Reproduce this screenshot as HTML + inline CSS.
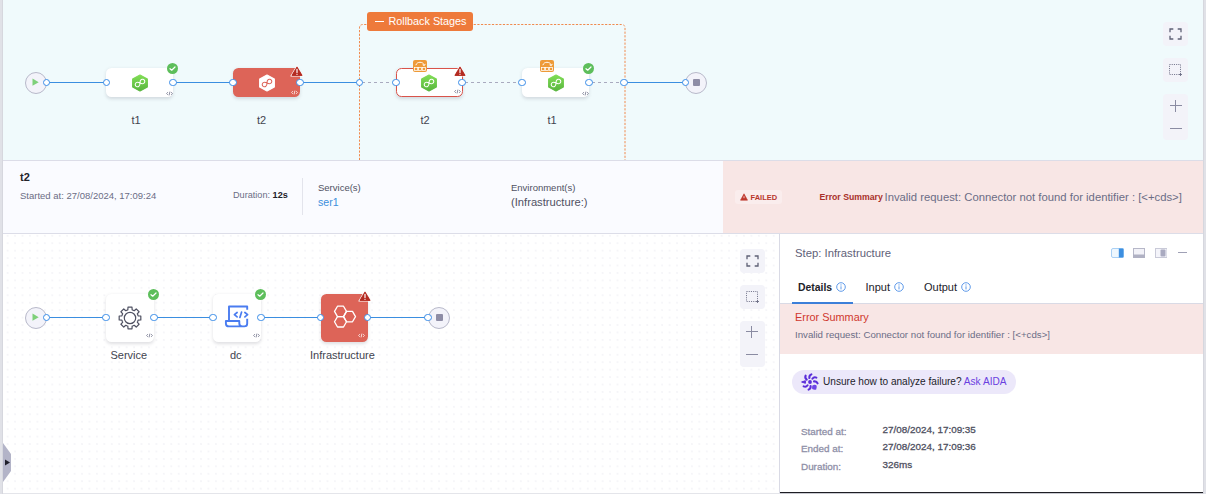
<!DOCTYPE html>
<html><head><meta charset="utf-8">
<style>
*{box-sizing:border-box;margin:0;padding:0}
html,body{width:1206px;height:494px;overflow:hidden;background:#fff;font-family:"Liberation Sans",sans-serif}
.a{position:absolute}
.t{position:absolute;white-space:pre;line-height:1}
#top{left:3px;top:0;width:1200px;height:161px;background:#F0FAFC;border-bottom:1px solid #DCDDE8}
#info{left:3px;top:161px;width:1200px;height:73px;background:#FAFBFF;border-bottom:1px solid #DCDDE8}
#pink{left:723px;top:161px;width:480px;height:72px;background:#F8E6E5}
#bot{left:3px;top:234px;width:776px;height:260px;background-color:#fff;
 background-image:radial-gradient(circle,#F0F0F5 0.5px,transparent 0.9px);background-size:7.4375px 7.4375px;background-position:0.935px 5.485px}
#panel{left:779px;top:234px;width:424px;height:260px;background:#fff;border-left:1px solid #D9DAE5}
#lbar{left:0;top:0;width:3px;height:494px;background:linear-gradient(90deg,#E0E1E7 0,#E0E1E7 2px,#D6D7DE 2px)}
#rbar{left:1203px;top:0;width:3px;height:494px;background:linear-gradient(90deg,#D6D7DE 0,#D6D7DE 1px,#E0E1E7 1px)}
.circ{position:absolute;width:22px;height:22px;border-radius:50%;background:#F3F3FA;border:1px solid #B8B9CA}
.port{position:absolute;width:7.6px;height:7.6px;border-radius:50%;background:#fff;border:1.85px solid #3A8DE8}
.ln{position:absolute;height:1.5px;background:#3B8EE0}
.dl{position:absolute;height:1.5px;background-image:linear-gradient(90deg,#A9AABF 0,#A9AABF 3px,transparent 3px);background-size:6px 1.5px}
.node{position:absolute;width:67px;height:29px;border-radius:5.5px;background:#fff;box-shadow:0 1.5px 3.5px rgba(96,97,112,0.2)}
.sq{position:absolute;width:48px;height:48px;border-radius:5.5px;background:#fff;box-shadow:0 1.5px 3.5px rgba(96,97,112,0.2)}
.red{background:#DD6458}
.lbl{position:absolute;white-space:pre;line-height:1;font-size:11px;color:#43444F}
.zb{position:absolute;width:25px;border-radius:4px;background:#F3F3F9}
</style></head><body>
<svg width="0" height="0" style="position:absolute">
<defs>
<linearGradient id="gg" x1="0" y1="0" x2="0" y2="1"><stop offset="0" stop-color="#80DD55"/><stop offset="1" stop-color="#58B53E"/></linearGradient>
<symbol id="hexg" viewBox="-10 -10 20 20">
 <path d="M0 -8.9 L8.2 -4.5 L8.2 4.5 L0 8.9 L-8.2 4.5 L-8.2 -4.5Z" fill="url(#gg)" stroke="url(#gg)" stroke-width="1.2" stroke-linejoin="round"/>
 <path d="M0 0 C0.9 -1.5 1.9 -2.5 3.3 -2.5 A2.5 2.5 0 0 1 3.3 2.5 C1.9 2.5 0.9 1.5 0 0 C-0.9 -1.5 -1.9 -2.5 -3.3 -2.5 A2.5 2.5 0 0 0 -3.3 2.5 C-1.9 2.5 -0.9 1.5 0 0Z" transform="rotate(-32)" fill="none" stroke="#fff" stroke-width="1.2"/>
</symbol>
<symbol id="hexw" viewBox="-10 -10 20 20">
 <path d="M0 -8.9 L8.2 -4.5 L8.2 4.5 L0 8.9 L-8.2 4.5 L-8.2 -4.5Z" fill="#fff" stroke="#fff" stroke-width="1.2" stroke-linejoin="round"/>
 <path d="M0 0 C0.9 -1.5 1.9 -2.5 3.3 -2.5 A2.5 2.5 0 0 1 3.3 2.5 C1.9 2.5 0.9 1.5 0 0 C-0.9 -1.5 -1.9 -2.5 -3.3 -2.5 A2.5 2.5 0 0 0 -3.3 2.5 C-1.9 2.5 -0.9 1.5 0 0Z" transform="rotate(-32)" fill="none" stroke="#DD6458" stroke-width="1.2"/>
</symbol>
<symbol id="chk" viewBox="0 0 11 11">
 <circle cx="5.5" cy="5.5" r="5.5" fill="#5DBE5B"/>
 <path d="M3 5.7 L4.7 7.2 L8 4" fill="none" stroke="#fff" stroke-width="1.2" stroke-linecap="round" stroke-linejoin="round"/>
</symbol>
<symbol id="warn" viewBox="0 0 14 12">
 <path d="M7 1 L13 11 L1 11Z" fill="#B42B21" stroke="#fff" stroke-width="1.2" stroke-linejoin="round"/>
 <path d="M7 1.9 L12.1 10.4 L1.9 10.4Z" fill="#B42B21" stroke="#B42B21" stroke-width="0.9" stroke-linejoin="round"/>
 <path d="M7 4.4 V7.6" stroke="#fff" stroke-width="1.2" stroke-linecap="round"/>
 <circle cx="7" cy="9.3" r="0.65" fill="#fff"/>
</symbol>
<symbol id="code" viewBox="0 0 7 5">
 <path d="M1.9 1.1 L0.6 2.5 L1.9 3.9 M5.1 1.1 L6.4 2.5 L5.1 3.9 M3.9 0.6 L3.1 4.4" fill="none" stroke="currentColor" stroke-width="0.75"/>
</symbol>
<symbol id="rb" viewBox="0 0 14 12">
 <rect x="0" y="0" width="14" height="12" rx="2" fill="#EE9A38"/>
 <path d="M2.9 5.2 C3.6 1.4 10.2 1.3 11.2 5.1" fill="none" stroke="#fff" stroke-width="0.95"/>
 <path d="M12.3 3.9 L11.3 5.7 L9.6 4.8" fill="none" stroke="#fff" stroke-width="0.9"/>
 <rect x="1.5" y="7.6" width="3.2" height="3" fill="none" stroke="#fff" stroke-width="0.75"/>
 <rect x="5.4" y="7.6" width="3.2" height="3" fill="none" stroke="#fff" stroke-width="0.75"/>
 <rect x="9.3" y="7.6" width="3.2" height="3" fill="none" stroke="#fff" stroke-width="0.75"/>
</symbol>
<symbol id="full" viewBox="0 0 13 12">
 <path d="M1 4.3 V1 H4.3 M8.7 1 H12 V4.3 M12 7.7 V11 H8.7 M4.3 11 H1 V7.7" fill="none" stroke="#5F6176" stroke-width="1.3"/>
</symbol>
<symbol id="sel" viewBox="0 0 13 12">
 <rect x="0.5" y="0.5" width="11" height="10" fill="none" stroke="#6B6D85" stroke-width="0.9" stroke-dasharray="1.1 1.1"/>
 <path d="M11.5 9 V12 M10 10.5 H13" stroke="#6B6D85" stroke-width="0.9"/>
</symbol>
<symbol id="gear" viewBox="-12 -12 24 24">
 <path d="M-3.21 -7.76 L-2.17 -8.11 L-2.00 -10.82 L2.00 -10.82 L2.17 -8.11 L3.21 -7.76 L4.20 -7.27 L6.23 -9.07 L9.07 -6.23 L7.27 -4.20 L7.76 -3.21 L8.11 -2.17 L10.82 -2.00 L10.82 2.00 L8.11 2.17 L7.76 3.21 L7.27 4.20 L9.07 6.23 L6.23 9.07 L4.20 7.27 L3.21 7.76 L2.17 8.11 L2.00 10.82 L-2.00 10.82 L-2.17 8.11 L-3.21 7.76 L-4.20 7.27 L-6.23 9.07 L-9.07 6.23 L-7.27 4.20 L-7.76 3.21 L-8.11 2.17 L-10.82 2.00 L-10.82 -2.00 L-8.11 -2.17 L-7.76 -3.21 L-7.27 -4.20 L-9.07 -6.23 L-6.23 -9.07 L-4.20 -7.27Z" fill="none" stroke="#4F5162" stroke-width="1.2" stroke-linejoin="round"/>
 <circle cx="0" cy="0" r="5.7" fill="none" stroke="#4F5162" stroke-width="1.2"/>
</symbol>
<symbol id="inf" viewBox="0 0 10 10">
 <circle cx="5" cy="5" r="4.3" fill="none" stroke="#4E8FE6" stroke-width="0.9"/>
 <path d="M5 4.3 V7.4" stroke="#4E8FE6" stroke-width="0.9"/>
 <circle cx="5" cy="2.9" r="0.55" fill="#4E8FE6"/>
</symbol>
</defs>
</svg>
<div id="lbar" class="a"></div>
<div id="rbar" class="a"></div>

<!-- TOP CANVAS -->
<div id="top" class="a"></div>

<!-- rollback dashed frame -->
<svg class="a" style="left:0;top:0" width="1206" height="160">
  <path d="M359.5 160 V28 Q359.5 24.5 363 24.5 H621.5 Q625 24.5 625 28 V160" fill="none" stroke="#F08A4E" stroke-width="1" stroke-dasharray="2.2 1.45"/>
</svg>
<div class="a" style="left:367px;top:12px;width:106px;height:19px;background:#EE7A3B;border-radius:3px"></div>
<div class="a" style="left:375px;top:20.5px;width:8.5px;height:1.5px;background:#fff"></div>
<div class="t" style="left:388.5px;top:15.9px;font-size:10.8px;color:#fff">Rollback Stages</div>

<!-- lines top -->
<div class="ln" style="left:46px;top:81.75px;width:60px"></div>
<div class="ln" style="left:173px;top:81.75px;width:60px"></div>
<div class="ln" style="left:300px;top:81.75px;width:60px"></div>
<div class="dl" style="left:362px;top:81.75px;width:34px"></div>
<div class="dl" style="left:465px;top:81.75px;width:57px"></div>
<div class="dl" style="left:592px;top:81.75px;width:32px"></div>
<div class="ln" style="left:624px;top:81.75px;width:61px"></div>

<div class="circ" style="left:24.5px;top:71.5px"></div>
<svg class="a" style="left:32.3px;top:78.3px" width="8" height="9"><path d="M0.5 0.5 L6.7 4.15 L0.5 7.8Z" fill="#7ED07A"/></svg>
<div class="circ" style="left:685px;top:71.5px"></div>
<div class="a" style="left:692.5px;top:79px;width:7.5px;height:7px;background:#8E8DA6;border-radius:1px"></div>

<div class="node" style="left:106px;top:68px"></div>
<div class="node red" style="left:233px;top:68px"></div>
<div class="node" style="left:396px;top:68px;border:1.5px solid #D9534A"></div>
<div class="node" style="left:522px;top:68px"></div>

<div class="lbl" style="left:131.5px;top:114.5px">t1</div>
<div class="lbl" style="left:257px;top:114.5px">t2</div>
<div class="lbl" style="left:420.5px;top:114.5px">t2</div>
<div class="lbl" style="left:547.5px;top:114.5px">t1</div>

<!-- ports top -->
<div class="port" style="left:42.5px;top:78.8px"></div>
<div class="port" style="left:102.5px;top:78.8px"></div>
<div class="port" style="left:169px;top:78.8px"></div>
<div class="port" style="left:229px;top:78.8px"></div>
<div class="port" style="left:296px;top:78.8px"></div>
<div class="port" style="left:355.5px;top:78.8px"></div>
<div class="port" style="left:392px;top:78.8px"></div>
<div class="port" style="left:458px;top:78.8px"></div>
<div class="port" style="left:518px;top:78.8px"></div>
<div class="port" style="left:585px;top:78.8px"></div>
<div class="port" style="left:620px;top:78.8px"></div>
<div class="port" style="left:681.5px;top:78.8px"></div>

<!-- zoom controls top -->
<div class="zb" style="left:1163px;top:22px;height:24px"></div>
<div class="zb" style="left:1163px;top:58px;height:24px"></div>
<div class="zb" style="left:1163px;top:94px;height:46px"></div>


<!-- top icons -->
<svg class="a" style="left:130.5px;top:72.5px" width="18" height="20"><use href="#hexg"/></svg>
<svg class="a" style="left:257.5px;top:72.5px" width="18" height="20"><use href="#hexw"/></svg>
<svg class="a" style="left:420px;top:72.5px" width="18" height="20"><use href="#hexg"/></svg>
<svg class="a" style="left:546.5px;top:72.5px" width="18" height="20"><use href="#hexg"/></svg>
<svg class="a" style="left:167px;top:62.7px" width="11" height="11"><use href="#chk"/></svg>
<svg class="a" style="left:583px;top:63px" width="11" height="11"><use href="#chk"/></svg>
<svg class="a" style="left:289.5px;top:64.5px" width="14" height="12"><use href="#warn"/></svg>
<svg class="a" style="left:452.5px;top:64.5px" width="14" height="12"><use href="#warn"/></svg>
<svg class="a" style="left:165.5px;top:90.5px;color:#6B6D85" width="7" height="5"><use href="#code"/></svg>
<svg class="a" style="left:290.8px;top:89.5px;color:#fff" width="7" height="5"><use href="#code"/></svg>
<svg class="a" style="left:453.5px;top:89.3px;color:#6B6D85" width="7" height="5"><use href="#code"/></svg>
<svg class="a" style="left:581.5px;top:90.5px;color:#6B6D85" width="7" height="5"><use href="#code"/></svg>
<svg class="a" style="left:413px;top:60px" width="14" height="12"><use href="#rb"/></svg>
<svg class="a" style="left:539.5px;top:60px" width="14" height="12"><use href="#rb"/></svg>
<svg class="a" style="left:1169px;top:28px" width="13" height="12"><use href="#full"/></svg>
<svg class="a" style="left:1169px;top:64px" width="13" height="12"><use href="#sel"/></svg>
<div class="a" style="left:1169.5px;top:104.8px;width:12px;height:1.1px;background:#8A8BA2"></div>
<div class="a" style="left:1174.85px;top:99.5px;width:1.1px;height:12px;background:#8A8BA2"></div>
<div class="a" style="left:1169.5px;top:127.8px;width:12px;height:1.1px;background:#8A8BA2"></div>

<!-- INFO BAR -->
<div id="info" class="a"></div>
<div id="pink" class="a"></div>
<div class="t" style="left:20px;top:172px;font-size:11px;font-weight:bold;color:#22222A">t2</div>
<div class="t" style="left:20px;top:191px;font-size:9.5px;color:#6B6D85">Started at: 27/08/2024, 17:09:24</div>
<div class="t" style="left:233px;top:191.3px;font-size:9.15px;color:#6B6D85">Duration: <b style="color:#22222A">12s</b></div>
<div class="a" style="left:302px;top:178px;width:1px;height:37px;background:#E3E4EC"></div>
<div class="t" style="left:318px;top:183px;font-size:9.5px;color:#4F5162">Service(s)</div>
<div class="t" style="left:318px;top:197.3px;font-size:10.6px;color:#3C8FDC">ser1</div>
<div class="t" style="left:511px;top:183px;font-size:9.5px;color:#4F5162">Environment(s)</div>
<div class="t" style="left:511px;top:197px;font-size:11.2px;color:#4F5162">(Infrastructure:)</div>

<div class="a" style="left:735px;top:190px;width:47px;height:13.5px;background:#FAEDED;border-radius:3px"></div>
<div class="t" style="left:750.5px;top:193.5px;font-size:7.5px;font-weight:bold;color:#B8372D">FAILED</div>
<div class="t" style="left:819.5px;top:192.5px;font-size:8.7px;font-weight:bold;color:#A8302A">Error Summary</div>
<div class="t" style="left:884.5px;top:192px;font-size:11.3px;color:#6B6D85">Invalid request: Connector not found for identifier : [&lt;+cds&gt;]</div>

<!-- BOTTOM CANVAS -->
<div id="bot" class="a"></div>
<div class="ln" style="left:46px;top:316.75px;width:60px"></div>
<div class="ln" style="left:154px;top:316.75px;width:60px"></div>
<div class="ln" style="left:261px;top:316.75px;width:60px"></div>
<div class="ln" style="left:368px;top:316.75px;width:60px"></div>
<div class="circ" style="left:24.5px;top:306.5px"></div>
<svg class="a" style="left:32.3px;top:313.2px" width="8" height="9"><path d="M0.5 0.5 L6.7 4.15 L0.5 7.8Z" fill="#7ED07A"/></svg>
<div class="circ" style="left:428px;top:306.5px"></div>
<div class="a" style="left:435.5px;top:314px;width:7.5px;height:7px;background:#8E8DA6;border-radius:1px"></div>

<div class="sq" style="left:106px;top:293.5px"></div>
<div class="sq" style="left:213px;top:293.5px"></div>
<div class="sq red" style="left:320.5px;top:293.5px;width:47.3px"></div>
<div class="lbl" style="left:110.5px;top:350px">Service</div>
<div class="lbl" style="left:230px;top:350px">dc</div>
<div class="lbl" style="left:310px;top:350px">Infrastructure</div>

<div class="port" style="left:42.5px;top:313.7px"></div>
<div class="port" style="left:102px;top:313.7px"></div>
<div class="port" style="left:150px;top:313.7px"></div>
<div class="port" style="left:209px;top:313.7px"></div>
<div class="port" style="left:257px;top:313.7px"></div>
<div class="port" style="left:316.5px;top:313.7px"></div>
<div class="port" style="left:363.5px;top:313.7px"></div>
<div class="port" style="left:424px;top:313.7px"></div>

<div class="zb" style="left:739.5px;top:249px;height:24px"></div>
<div class="zb" style="left:739.5px;top:285px;height:24px"></div>
<div class="zb" style="left:739.5px;top:321px;height:46px"></div>


<!-- bottom icons -->
<svg class="a" style="left:118px;top:305.5px" width="24" height="24"><use href="#gear"/></svg>
<svg class="a" style="left:224px;top:305px" width="26" height="23" viewBox="0 0 26 23">
 <path d="M5 16 V1.5 H23.2 V4.8 M23.2 13.8 V18.5 Q23.2 21.4 20.3 21.4 H5 Q1.9 21.4 1.9 18.4 V16 H15.3 V18.2 Q15.3 21.4 18.5 21.4" fill="none" stroke="#4A7CF0" stroke-width="1.9" stroke-linejoin="round"/>
 <path d="M13.1 7.5 L10.4 9.7 L13.1 11.9 M20.9 7.5 L23.6 9.7 L20.9 11.9 M17.6 7 L15.9 12.4" fill="none" stroke="#4A7CF0" stroke-width="1.7" stroke-linecap="round" stroke-linejoin="round"/>
</svg>
<svg class="a" style="left:328px;top:302px" width="32" height="32" viewBox="0 0 32 32">
 <g fill="none" stroke="#fff" stroke-width="1.3" stroke-linejoin="round">
 <path d="M6.5 9.4 L9.5 4.2 L15.5 4.2 L18.5 9.4 L15.5 14.6 L9.5 14.6Z"/>
 <path d="M6.5 19.8 L9.5 14.6 L15.5 14.6 L18.5 19.8 L15.5 25 L9.5 25Z"/>
 <path d="M15.5 14.6 L18.5 9.4 L24.5 9.4 L27.5 14.6 L24.5 19.8 L18.5 19.8Z"/>
 </g>
</svg>
<svg class="a" style="left:148px;top:289px" width="11" height="11"><use href="#chk"/></svg>
<svg class="a" style="left:255px;top:289px" width="11" height="11"><use href="#chk"/></svg>
<svg class="a" style="left:357.5px;top:289.5px" width="14" height="12"><use href="#warn"/></svg>
<svg class="a" style="left:145.5px;top:333.3px;color:#6B6D85" width="7" height="5"><use href="#code"/></svg>
<svg class="a" style="left:253px;top:333.3px;color:#6B6D85" width="7" height="5"><use href="#code"/></svg>
<svg class="a" style="left:358px;top:332.5px;color:#fff" width="7" height="5"><use href="#code"/></svg>
<svg class="a" style="left:745.5px;top:255px" width="13" height="12"><use href="#full"/></svg>
<svg class="a" style="left:745.5px;top:291px" width="13" height="12"><use href="#sel"/></svg>
<div class="a" style="left:746px;top:331.3px;width:12px;height:1.1px;background:#8A8BA2"></div>
<div class="a" style="left:751.35px;top:326px;width:1.1px;height:12px;background:#8A8BA2"></div>
<div class="a" style="left:746px;top:354.3px;width:12px;height:1.1px;background:#8A8BA2"></div>
<svg class="a" style="left:3px;top:443px" width="9" height="39" viewBox="0 0 9 39"><path d="M0 0 L8 11 V28 L0 39Z" fill="#B3B4C8"/><path d="M2 16.5 L7 19.5 L2 22.5Z" fill="#1F1F2A"/></svg>

<!-- RIGHT PANEL -->
<div id="panel" class="a"></div>
<div class="t" style="left:795px;top:248px;font-size:11.3px;color:#5F6178">Step: Infrastructure</div>
<div class="t" style="left:798px;top:282.7px;font-size:10.4px;font-weight:bold;color:#22222A">Details</div>
<div class="t" style="left:865.5px;top:282px;font-size:11px;color:#22222A">Input</div>
<div class="t" style="left:924px;top:282px;font-size:11px;color:#22222A">Output</div>
<div class="a" style="left:780px;top:303px;width:423px;height:1px;background:#D9DAE5"></div>
<div class="a" style="left:792px;top:302px;width:61px;height:2px;background:#3C7FD9"></div>
<div class="a" style="left:780px;top:304px;width:423px;height:50px;background:#F8E6E5"></div>
<div class="t" style="left:795px;top:312px;font-size:10.9px;color:#D0382E">Error Summary</div>
<div class="t" style="left:795px;top:329.6px;font-size:9.7px;color:#6B6D85">Invalid request: Connector not found for identifier : [&lt;+cds&gt;]</div>

<div class="a" style="left:792px;top:369.5px;width:224px;height:24px;border-radius:12px;background:#ECE8FA"></div>
<div class="t" style="left:823px;top:376.5px;font-size:10.1px;color:#22222A">Unsure how to analyze failure? <span style="color:#6A3FE0">Ask AIDA</span></div>

<div class="t" style="left:801px;top:426.5px;font-size:9.9px;color:#8F90A8;-webkit-text-stroke:0.3px #8F90A8">Started at:</div>
<div class="t" style="left:801px;top:444px;font-size:9.9px;color:#8F90A8;-webkit-text-stroke:0.3px #8F90A8">Ended at:</div>
<div class="t" style="left:801px;top:461.5px;font-size:9.9px;color:#8F90A8;-webkit-text-stroke:0.3px #8F90A8">Duration:</div>
<div class="t" style="left:882.5px;top:424.5px;font-size:9.9px;color:#4F5162;-webkit-text-stroke:0.3px #4F5162">27/08/2024, 17:09:35</div>
<div class="t" style="left:882.5px;top:442.3px;font-size:9.9px;color:#4F5162;-webkit-text-stroke:0.3px #4F5162">27/08/2024, 17:09:36</div>
<div class="t" style="left:882.5px;top:460px;font-size:9.9px;color:#4F5162;-webkit-text-stroke:0.3px #4F5162">326ms</div>
<div class="a" style="left:3px;top:492.6px;width:777px;height:1.4px;background:#E4E5EA"></div>
<div class="a" style="left:780px;top:491.8px;width:423px;height:1.6px;background:#1E1E24"></div>
<div class="a" style="left:780px;top:493.4px;width:423px;height:0.6px;background:#C8C9D0"></div>


<!-- panel icons -->
<svg class="a" style="left:835.5px;top:282px" width="10" height="10"><use href="#inf"/></svg>
<svg class="a" style="left:893.5px;top:282px" width="10" height="10"><use href="#inf"/></svg>
<svg class="a" style="left:961px;top:282px" width="10" height="10"><use href="#inf"/></svg>
<svg class="a" style="left:1111px;top:247.5px" width="13" height="10" viewBox="0 0 13 10"><rect x="0.5" y="0.5" width="12" height="9" rx="1.5" fill="#EEF7FE" stroke="#A9D0F5"/><rect x="7.8" y="0.5" width="4.7" height="9" fill="#3D8FE0"/></svg>
<svg class="a" style="left:1133px;top:247.5px" width="12" height="10" viewBox="0 0 12 10"><rect x="0.5" y="0.5" width="11" height="9" fill="#F2F2F8" stroke="#B6B7C8"/><rect x="0" y="6.5" width="12" height="3.5" fill="#B0B1C3"/></svg>
<svg class="a" style="left:1154.5px;top:247.5px" width="12.5" height="10" viewBox="0 0 12.5 10"><rect x="0.5" y="0.5" width="11.5" height="9" fill="#F4F4FA" stroke="#C9CAD8"/><rect x="5.5" y="1.5" width="5" height="7" rx="1" fill="#A9AAC0"/></svg>
<div class="a" style="left:1177.7px;top:252.1px;width:9px;height:1.3px;background:#9FA0B5"></div>
<svg class="a" style="left:800px;top:371.5px" width="20" height="20" viewBox="-10 -10 20 20">
 <g fill="none" stroke="#5B2ED9" stroke-width="2.1" stroke-linecap="round">
 <circle r="1.9" fill="#5B2ED9" stroke="none"/>
 <path id="pt" d="M-0.6 -4 Q-1 -6.6 1.4 -7.6"/>
 <use href="#pt" transform="rotate(45)"/>
 <use href="#pt" transform="rotate(90)"/>
 <use href="#pt" transform="rotate(180)"/>
 <use href="#pt" transform="rotate(225)"/>
 <use href="#pt" transform="rotate(315)"/>
 </g>
 <path d="M-4.6 -1.3 L-8.4 0 L-4.6 1.3Z" fill="#5B2ED9" stroke="#5B2ED9" stroke-width="1" stroke-linejoin="round"/>
 <path d="M2.4 3.6 Q4.4 2.2 6.4 3.2 Q7.4 5.6 6.2 7.4 Q4.2 8 2.2 7 Q1.8 5.2 2.4 3.6Z" fill="#6E45E6"/>
</svg>
<svg class="a" style="left:739.5px;top:192.5px" width="8" height="8" viewBox="0 0 8 8"><path d="M4 0.8 L7.5 7.2 H0.5Z" fill="#C0392F" stroke="#C0392F" stroke-width="0.6" stroke-linejoin="round"/><path d="M4 3.2 V5.2" stroke="#FAEDED" stroke-width="0.8"/></svg>

</body></html>
